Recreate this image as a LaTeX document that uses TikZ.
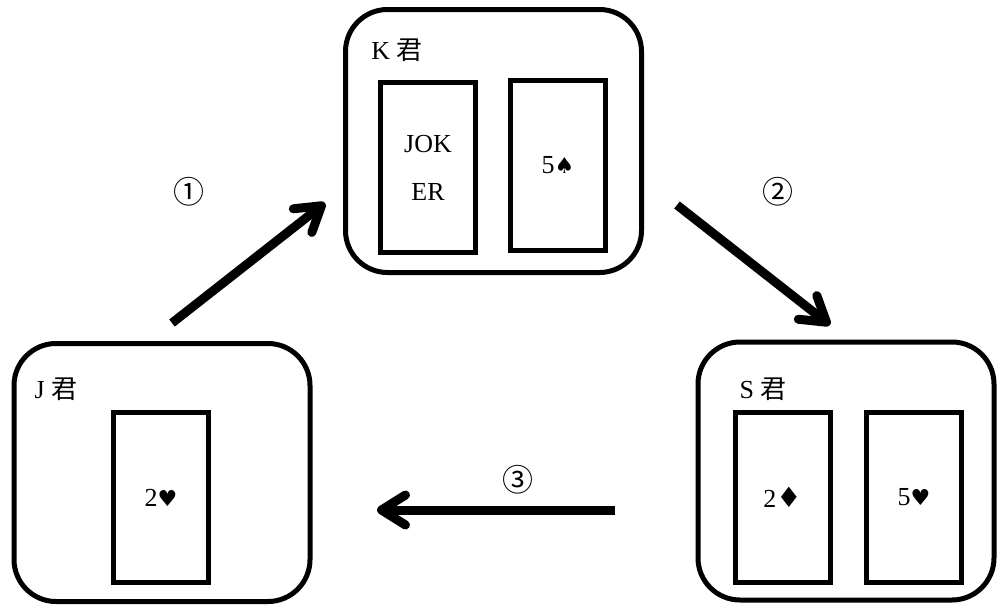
\documentclass[tikz,border=0pt]{standalone}
\usepackage{fontspec}
\setmainfont{Liberation Serif}
\newfontfamily\cjk{Noto Sans CJK JP}
\newfontfamily\suitfont{DejaVu Sans}
\usetikzlibrary{arrows.meta}
\newcommand{\suit}[2][11]{{\suitfont\fontsize{#1}{#1}\selectfont #2}}
\newcommand{\circnum}[1]{{\cjk\fontsize{15.5}{15.5}\selectfont #1}}
\tikzset{%
	every player/.style={
		draw,
		line width=2.5pt,
		rounded corners=21pt,
		inner sep=0pt,
		minimum width=148pt,
		minimum height=129pt
	},
	every card/.style={
		draw,
		line width=2.5pt,
		inner sep=0pt,
		align=center,
		minimum width=47.5pt,
		minimum height=85pt
	},
	pass arrow/.style={
		line width=4.5pt,
		-{Straight Barb[length=12pt,width=15pt,round]}
	},
}
\begin{document}
\begin{tikzpicture}[x=0.5pt,y=-0.5pt,font=\fontsize{13}{24}\selectfont]
			\useasboundingbox (0,0) rectangle (997,607);
			
			\node[every player, minimum height=131.5pt] (kbox) at (493.5,141) {};
			\node (klabel) at (397,50) {K {\cjk 君}};
			\node[every card] (kjoker) at (428,167.5) {JOK\\ER};
			\node[every card] (kfive) at (558,165) {5\suit{♠}};
			
			\node[every player] (jbox) at (162,472.5) {};
			\node (jlabel) at (56,389) {J {\cjk 君}};
			\node[every card] (jtwo) at (161,497.5) {2\suit{♥}};
			
			\node[every player] (sbox) at (846,471) {};
			\node (slabel) at (763,389) {S {\cjk 君}};
			\node[every card] (stwo) at (782.5,497) {2\suit[14]{♦}};
			\node[every card] (sfive) at (914,497) {5\suit{♥}};
			
			\coordinate (jout) at (172,323);
			\coordinate (kin) at (325,203);
			\coordinate (kout) at (677,205);
			\coordinate (sin) at (830,325);
			\coordinate (sout) at (615,510);
			\coordinate (jin) at (377,510);
			
			\draw[pass arrow] (jout) -- (kin);
			\draw[pass arrow] (kout) -- (sin);
			\draw[pass arrow] (sout) -- (jin);
			
			\node (numone) at (189,192) {\circnum{①}};
			\node (numtwo) at (778,192) {\circnum{②}};
			\node (numthree) at (518,480) {\circnum{③}};
\end{tikzpicture}
\end{document}
